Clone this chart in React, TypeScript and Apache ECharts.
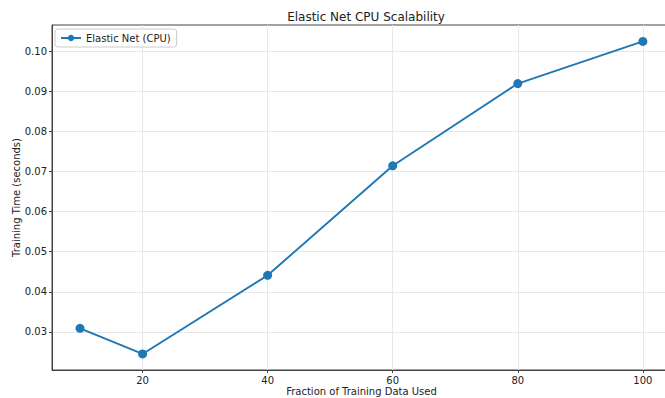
import React, { useEffect, useRef } from "react";
import * as echarts from "echarts";

const fractions = [10, 20, 40, 60, 80, 100];
const trainingTimes = [0.0309, 0.0245, 0.0441, 0.0714, 0.0919, 0.1024];
const xTicks = [20, 40, 60, 80, 100];
const yTicks = [0.03, 0.04, 0.05, 0.06, 0.07, 0.08, 0.09, 0.1];
const seriesName = "Elastic Net (CPU)";

export default function App() {
  const ref = useRef<HTMLDivElement>(null);
  useEffect(() => {
    document.body.style.margin = "0";
    const chart = echarts.init(ref.current!, null, { renderer: "svg" });
    const font = "DejaVu Sans";
    chart.setOption({
      animation: false,
      backgroundColor: "#fff",
      textStyle: { fontFamily: font },
      title: {
        text: "Elastic Net CPU Scalability",
        left: 361,
        top: 6,
        textAlign: "center",
        textStyle: { fontSize: 12, fontWeight: "normal", color: "#222", fontFamily: font },
      },
      legend: {
        left: 55,
        top: 29,
        padding: [4, 6, 4, 5],
        itemWidth: 20,
        itemHeight: 8,
        itemGap: 6,
        borderColor: "#ccc",
        borderWidth: 1,
        borderRadius: 3,
        backgroundColor: "rgba(255,255,255,0.8)",
        textStyle: { fontSize: 10, color: "#222", fontFamily: font },
        data: [seriesName],
      },
      grid: {
        left: 52,
        right: -6,
        top: 25,
        bottom: 28,
        show: true,
        borderColor: "#444",
        borderWidth: 1,
        backgroundColor: "transparent",
        outerBoundsMode: "none",
        containLabel: false,
      },
      xAxis: {
        type: "value",
        min: 5.52,
        max: 104.5,
        name: "Fraction of Training Data Used",
        nameLocation: "middle",
        nameGap: 16,
        nameMoveOverlap: false,
        nameTextStyle: { fontSize: 10, color: "#222" },
        axisLine: { show: true, lineStyle: { color: "#444" } },
        axisTick: { show: true, length: 3, lineStyle: { color: "#444" }, customValues: xTicks },
        axisLabel: { fontSize: 10, color: "#222", margin: 5, customValues: xTicks },
        splitLine: { show: true, lineStyle: { color: "#e8e8e8", width: 1 } },
      },
      yAxis: {
        type: "value",
        min: 0.0205,
        max: 0.1065,
        name: "Training Time (seconds)",
        nameLocation: "middle",
        nameGap: 31,
        nameMoveOverlap: false,
        nameTextStyle: { fontSize: 10, color: "#222" },
        axisLine: { show: true, lineStyle: { color: "#444" } },
        axisTick: { show: true, length: 3, lineStyle: { color: "#444" }, customValues: yTicks },
        axisLabel: {
          fontSize: 10,
          color: "#222",
          margin: 5,
          customValues: yTicks,
          formatter: (v: number) => v.toFixed(2),
        },
        splitLine: { show: true, lineStyle: { color: "#e8e8e8", width: 1 } },
      },
      series: [
        {
          name: seriesName,
          type: "line",
          data: fractions.map((f, i) => [f, trainingTimes[i]]),
          symbol: "circle",
          symbolSize: 9,
          itemStyle: { color: "#1f77b4" },
          lineStyle: { color: "#1f77b4", width: 1.9 },
        },
      ],
    });
    return () => chart.dispose();
  }, []);
  return <div ref={ref} style={{ width: 665, height: 398 }} />;
}
